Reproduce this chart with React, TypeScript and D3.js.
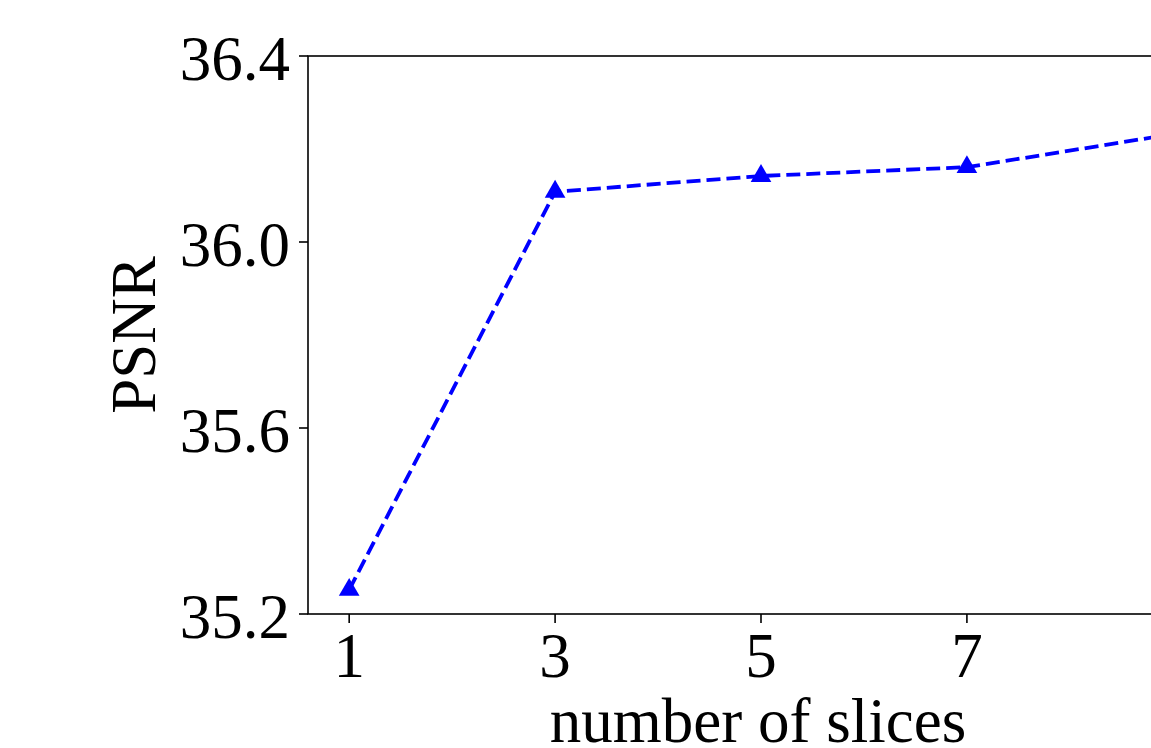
import React from "react";
import * as d3 from "d3";

const slices = [1, 3, 5, 7, 9];
const psnr = [35.252, 36.108, 36.142, 36.161, 36.232];
const xTicks = [1, 3, 5, 7];
const yTicks = [35.2, 35.6, 36.0, 36.4];

export default function App() {
  const W = 1151, H = 748;
  const left = 308, top = 56, bottom = 614, right = 1214;
  const x = d3.scaleLinear().domain([0.6, 9.4]).range([left, right]);
  const y = d3.scaleLinear().domain([35.2, 36.4]).range([bottom, top]);
  const line = d3.line<number>().x((_, i) => x(slices[i])).y((d) => y(d));
  const tri = d3.symbol().type(d3.symbolTriangle).size(185)();
  const font = "'Liberation Serif', 'DejaVu Serif', serif";
  const fs = 63;
  return (
    <svg width={W} height={H} style={{ position: "absolute", left: 0, top: 0, overflow: "hidden" }}>
      <rect x={0} y={0} width={W} height={H} fill="#fff" />
      <path d={line(psnr) || ""} fill="none" stroke="#0000ff" strokeWidth={3.8} strokeDasharray="14,6" />
      {psnr.map((v, i) => (
        <path key={i} d={tri || ""} transform={`translate(${x(slices[i])},${y(v)})`} fill="#0000ff" />
      ))}
      <rect x={left} y={top} width={right - left} height={bottom - top} fill="none" stroke="#000" strokeWidth={1.6} />
      {yTicks.map((t) => (
        <g key={t}>
          <line x1={left - 9} x2={left} y1={y(t)} y2={y(t)} stroke="#000" strokeWidth={1.6} />
          <text x={left - 18} y={y(t)} dy="0.38em" textAnchor="end" fontFamily={font} fontSize={fs}>
            {t.toFixed(1)}
          </text>
        </g>
      ))}
      {xTicks.map((t) => (
        <g key={t}>
          <line x1={x(t)} x2={x(t)} y1={bottom} y2={bottom + 9} stroke="#000" strokeWidth={1.6} />
          <text x={x(t)} y={677} textAnchor="middle" fontFamily={font} fontSize={fs}>
            {t}
          </text>
        </g>
      ))}
      <text x={(left + right) / 2 - 3} y={742} textAnchor="middle" fontFamily={font} fontSize={fs}>
        number of slices
      </text>
      <text transform={`translate(155,${(top + bottom) / 2}) rotate(-90)`} textAnchor="middle" fontFamily={font} fontSize={fs}>
        PSNR
      </text>
    </svg>
  );
}
